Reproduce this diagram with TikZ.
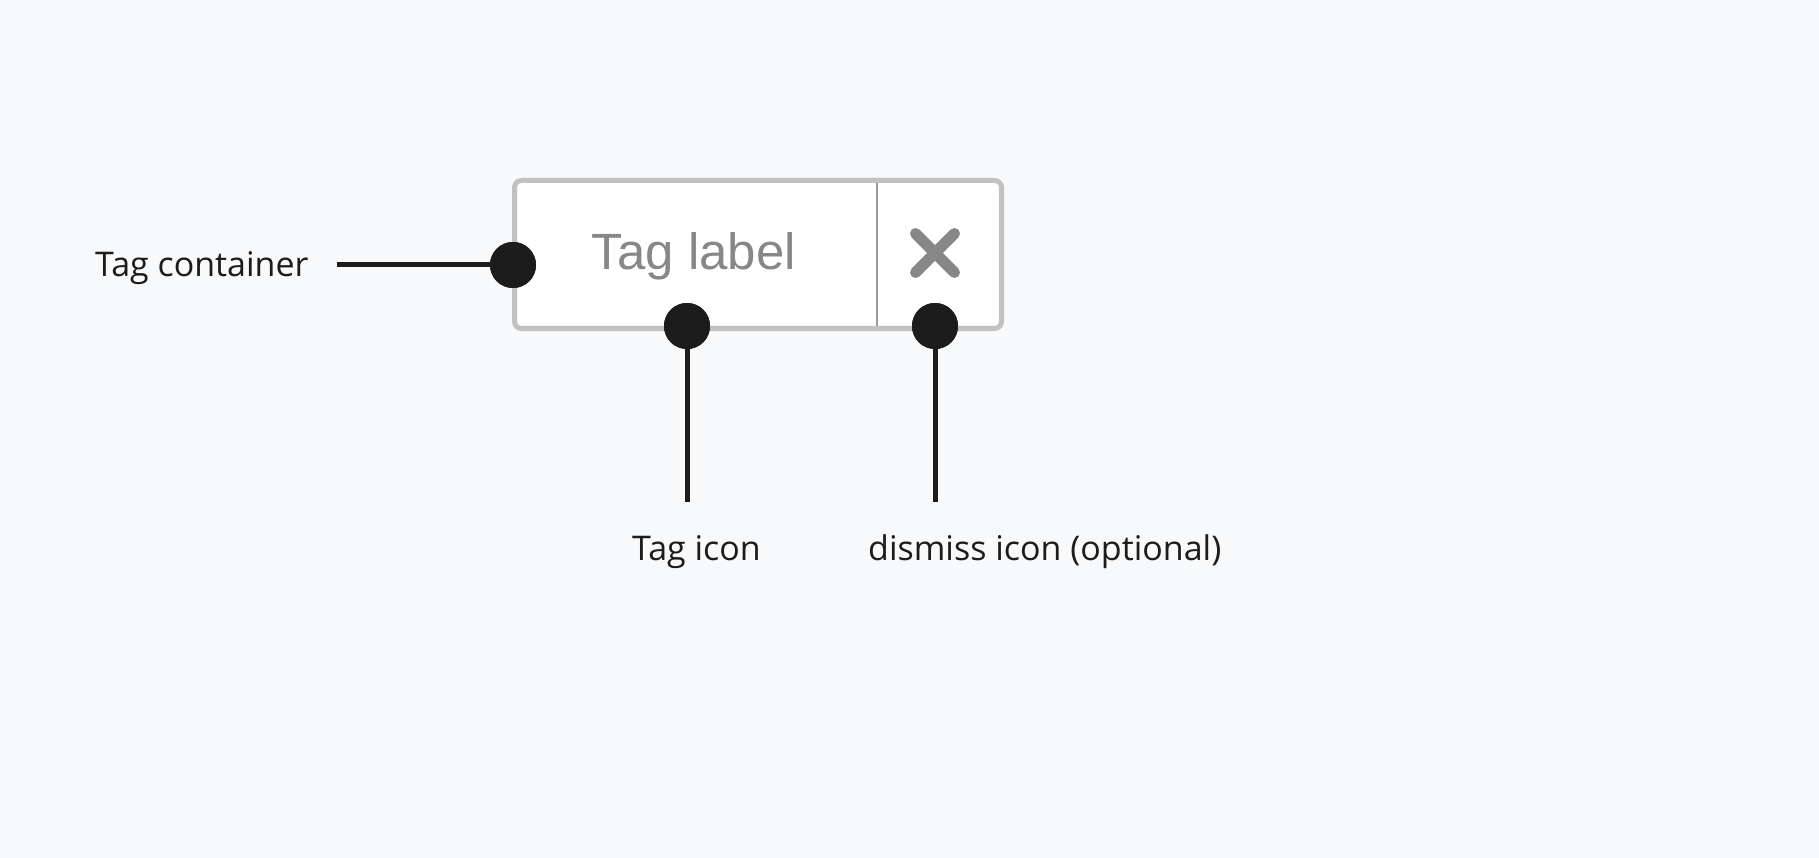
\documentclass[tikz,border=0pt]{standalone}
\usepackage{fontspec}
\setmainfont{Open Sans}
\newfontfamily\arialfont{Liberation Sans}
\definecolor{bgcol}{HTML}{F8F9FB}
\definecolor{framecol}{HTML}{C1C1C1}
\definecolor{sepcol}{HTML}{9A9A9A}
\definecolor{iconcol}{HTML}{878787}
\definecolor{inkcol}{HTML}{1C1C1C}
\begin{document}
\begin{tikzpicture}[x=1pt,y=-1pt,
        dot/.style={circle,fill=inkcol,minimum size=46pt,inner sep=0pt},
        callout/.style={draw=inkcol,line width=5pt},
        txt/.style={anchor=base west,inner sep=0pt,text=inkcol,
            font=\fontsize{34}{41}\selectfont}]
\fill[bgcol] (0,0) rectangle (1819,858);
\useasboundingbox (0,0) rectangle (1819,858);

\draw[framecol,fill=white,line width=5pt,rounded corners=7pt] (514.5,180.5) rectangle (1001.5,328.5);
\draw[sepcol,line width=1.5pt] (877,183) -- (877,326);
\node[anchor=base,inner sep=0pt,text=iconcol,font=\arialfont\fontsize{51}{60}\selectfont] (tagLabel) at (694,270) {Tag label};
\draw[iconcol,line width=11pt,line cap=round] (915.5,233.5) -- (954.5,272.5);
\draw[iconcol,line width=11pt,line cap=round] (915.5,272.5) -- (954.5,233.5);

\node[txt] (lblContainer) at (95,277) {Tag container};
\node[txt] (lblIcon) at (632,560) {Tag icon};
\node[txt] (lblDismiss) at (868,560) {dismiss icon (optional)};

\coordinate (endContainer) at (337,265);
\coordinate (endIcon) at (687,502);
\coordinate (endDismiss) at (935,502);

\node[dot] (dotContainer) at (513,265) {};
\node[dot] (dotIcon) at (687,326) {};
\node[dot] (dotDismiss) at (935,326) {};

\draw[callout] (endContainer) -- (dotContainer.center);
\draw[callout] (dotIcon.center) -- (endIcon);
\draw[callout] (dotDismiss.center) -- (endDismiss);

\node[dot] at (dotContainer) {};
\node[dot] at (dotIcon) {};
\node[dot] at (dotDismiss) {};
\end{tikzpicture}
\end{document}
